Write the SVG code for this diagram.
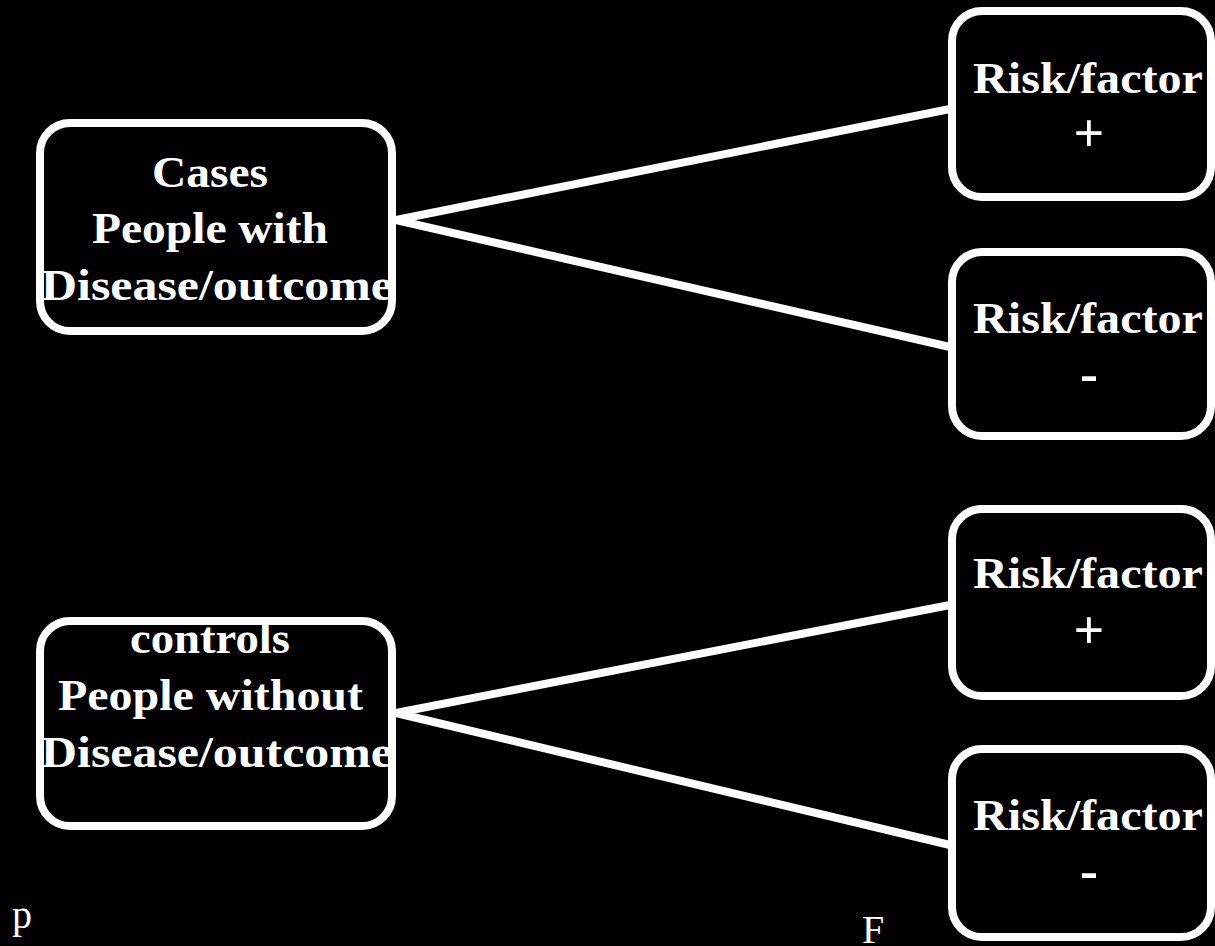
<svg xmlns="http://www.w3.org/2000/svg" width="1215" height="946" viewBox="0 0 1215 946">
  <style>
    .box { fill: #000; stroke: #fff; stroke-width: 8; }
    .frame { fill: none; stroke: #fff; stroke-width: 8; }
    .conn { stroke: #fff; stroke-width: 8; fill: none; stroke-linecap: butt; }
    .t { font-family: "Liberation Serif", "Times New Roman", serif; font-weight: bold; font-size: 44px; fill: #fff; }
    .sym { font-family: "Liberation Serif", "Times New Roman", serif; font-weight: bold; font-size: 54px; fill: #fff; text-anchor: middle; }
    .s { font-family: "Liberation Serif", "Times New Roman", serif; font-size: 40px; fill: #fff; }
  </style>
  <rect x="0" y="0" width="1215" height="946" fill="#000"/>
  <g id="connectors">
    <line class="conn" x1="396" y1="220" x2="950" y2="109"/>
    <line class="conn" x1="396" y1="220" x2="950" y2="347"/>
    <line class="conn" x1="396" y1="713" x2="950" y2="605"/>
    <line class="conn" x1="396" y1="713" x2="950" y2="845"/>
  </g>
  <g id="cases">
    <rect x="40" y="123" width="352" height="208" rx="30" fill="#000"/>
    <text class="t" x="152" y="187" textLength="116" lengthAdjust="spacingAndGlyphs">Cases</text>
    <text class="t" x="92" y="243" textLength="236" lengthAdjust="spacingAndGlyphs">People with</text>
    <text class="t" x="41" y="300" textLength="352" lengthAdjust="spacingAndGlyphs">Disease/outcome</text>
    <rect class="frame" x="40" y="123" width="352" height="208" rx="30"/>
  </g>
  <g id="controls">
    <rect x="40" y="621" width="352" height="205" rx="30" fill="#000"/>
    <text class="t" x="130" y="653" textLength="160" lengthAdjust="spacingAndGlyphs">controls</text>
    <text class="t" x="58" y="710" textLength="305" lengthAdjust="spacingAndGlyphs">People without</text>
    <text class="t" x="41" y="767" textLength="352" lengthAdjust="spacingAndGlyphs">Disease/outcome</text>
    <rect class="frame" x="40" y="621" width="352" height="205" rx="30"/>
  </g>
  <g id="risk1">
    <rect class="box" x="952" y="11" width="259" height="186" rx="30"/>
    <text class="t" x="973" y="93" textLength="230" lengthAdjust="spacingAndGlyphs">Risk/factor</text>
    <text class="sym" x="1089" y="151">+</text>
  </g>
  <g id="risk2">
    <rect class="box" x="952" y="252" width="259" height="184" rx="30"/>
    <text class="t" x="973" y="333" textLength="230" lengthAdjust="spacingAndGlyphs">Risk/factor</text>
    <text class="sym" x="1089" y="392">-</text>
  </g>
  <g id="risk3">
    <rect class="box" x="952" y="509" width="259" height="187" rx="30"/>
    <text class="t" x="973" y="588" textLength="230" lengthAdjust="spacingAndGlyphs">Risk/factor</text>
    <text class="sym" x="1089" y="648">+</text>
  </g>
  <g id="risk4">
    <rect class="box" x="952" y="749" width="259" height="188" rx="30"/>
    <text class="t" x="973" y="830" textLength="230" lengthAdjust="spacingAndGlyphs">Risk/factor</text>
    <text class="sym" x="1089" y="889">-</text>
  </g>
  <g id="footer">
    <text class="s" x="12" y="928">p</text>
    <text class="s" x="862" y="943">F</text>
  </g>
</svg>
